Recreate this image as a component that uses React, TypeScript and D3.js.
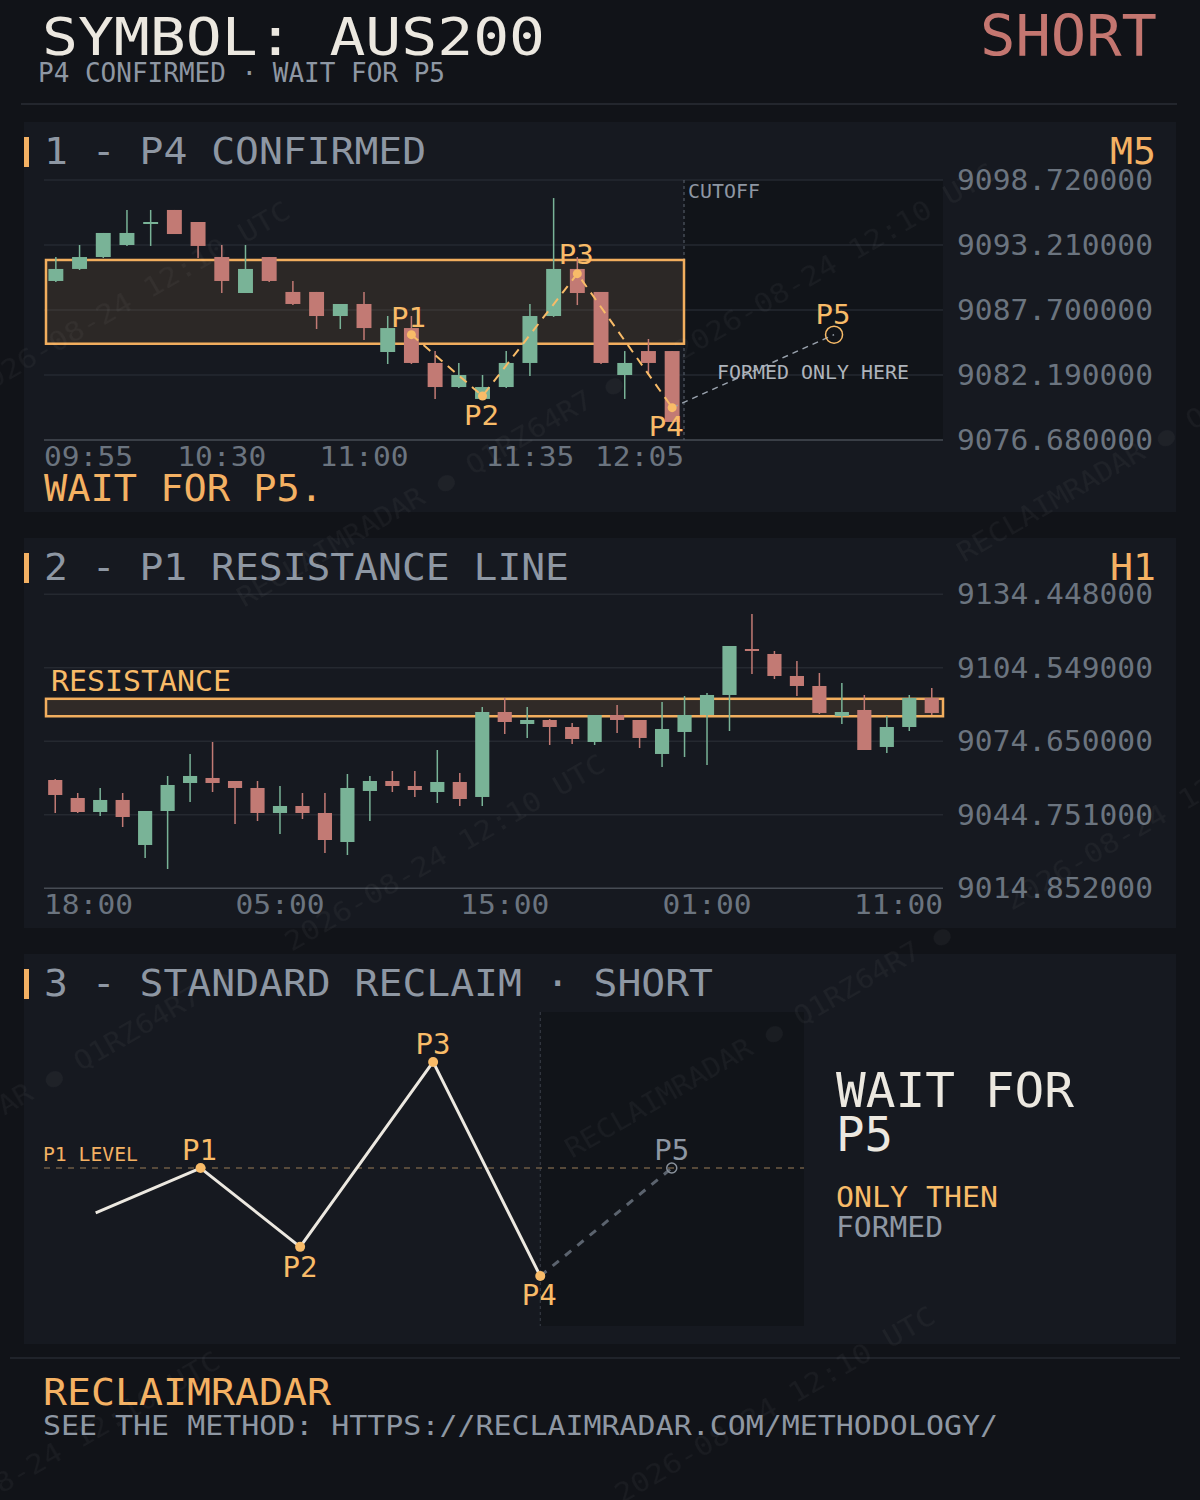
import React from "react";
import * as d3 from "d3";

const FONT = "'DejaVu Sans Mono', 'Liberation Mono', monospace";
const COL = {
  page: "#111318",
  panel: "#161920",
  dark: "#111419",
  grid: "#252930",
  axis: "#474c54",
  cream: "#ece8e0",
  gray: "#8e97a3",
  tick: "#6b747f",
  orange: "#f4b163",
  pivot: "#f8bb68",
  green: "#79b397",
  red: "#c27a74",
  short: "#c47670",
};

// ---------- Header ----------
const symbolName = "AUS200";
const direction = "SHORT";
const statusText = "P4 CONFIRMED · WAIT FOR P5";

// ---------- Panel 1 : M5 ----------
const m5Times = [
  "09:55", "10:00", "10:05", "10:10", "10:15", "10:20", "10:25", "10:30", "10:35",
  "10:40", "10:45", "10:50", "10:55", "11:00", "11:05", "11:10", "11:15", "11:20",
  "11:25", "11:30", "11:35", "11:40", "11:45", "11:50", "11:55", "12:00", "12:05",
];
const m5Open = [9090.16, 9091.18, 9092.19, 9093.21, 9095.08, 9096.18, 9095.16, 9092.19, 9089.14, 9092.19, 9089.23, 9089.23, 9087.19, 9088.21, 9084.14, 9086.17, 9083.21, 9081.17, 9080.16, 9081.17, 9083.21, 9087.19, 9091.18, 9089.23, 9082.19, 9084.22, 9084.22];
const m5High = [9092.19, 9093.21, 9094.23, 9096.18, 9096.18, 9096.18, 9095.16, 9093.21, 9093.21, 9092.19, 9090.16, 9089.23, 9088.21, 9089.23, 9087.19, 9087.19, 9084.22, 9083.21, 9082.19, 9084.22, 9088.21, 9097.19, 9092.19, 9089.23, 9084.22, 9085.24, 9084.22];
const m5Low = [9090.07, 9091.09, 9092.11, 9093.13, 9093.13, 9094.14, 9092.11, 9089.14, 9089.14, 9090.07, 9088.12, 9086.09, 9086.09, 9085.16, 9083.12, 9083.12, 9080.16, 9081.09, 9080.16, 9081.09, 9082.11, 9087.11, 9088.12, 9083.12, 9080.16, 9082.19, 9078.21];
const m5Close = [9091.18, 9092.19, 9094.23, 9094.23, 9095.16, 9094.14, 9093.13, 9090.16, 9091.18, 9090.16, 9088.21, 9087.19, 9088.21, 9086.17, 9086.17, 9083.21, 9081.17, 9082.19, 9081.17, 9083.21, 9087.19, 9091.18, 9089.14, 9083.21, 9083.21, 9083.21, 9078.21];
const m5Ticks = [9098.72, 9093.21, 9087.7, 9082.19, 9076.68];
const m5TickIdx = [0, 7, 13, 20, 26];
const zoneHigh = 9091.94;
const zoneLow = 9084.84;
const pivotNames = ["P1", "P2", "P3", "P4"];
const pivotIdx = [15, 18, 22, 26];
const pivotPrice = [9085.61, 9080.41, 9090.78, 9079.42];
const p5Idx = 32.83;
const p5Price = 9085.61;

// ---------- Panel 2 : H1 ----------
const h1Times = [
  "18:00", "19:00", "20:00", "21:00", "22:00", "00:00", "01:00", "02:00", "03:00", "04:00",
  "05:00", "06:00", "07:00", "08:00", "09:00", "10:00", "11:00", "12:00", "13:00", "14:00",
  "15:00", "16:00", "17:00", "18:00", "19:00", "20:00", "21:00", "22:00", "00:00", "01:00",
  "02:00", "03:00", "04:00", "05:00", "06:00", "07:00", "08:00", "09:00", "10:00", "11:00",
];
const h1Open = [9058.91, 9051.59, 9045.89, 9050.78, 9032.47, 9046.30, 9057.69, 9059.73, 9058.50, 9055.66, 9045.49, 9048.33, 9045.49, 9033.69, 9054.44, 9058.50, 9056.47, 9054.03, 9058.10, 9052.00, 9086.57, 9081.69, 9083.32, 9080.47, 9074.37, 9085.35, 9083.32, 9069.49, 9078.44, 9085.35, 9093.49, 9112.20, 9110.17, 9101.22, 9097.15, 9084.94, 9087.39, 9072.34, 9080.47, 9092.27];
const h1High = [9059.32, 9053.62, 9055.66, 9053.62, 9046.30, 9060.54, 9069.49, 9074.37, 9058.50, 9058.50, 9056.47, 9053.62, 9053.62, 9061.35, 9060.54, 9062.57, 9062.57, 9071.11, 9061.76, 9088.61, 9092.27, 9088.61, 9083.73, 9082.10, 9085.35, 9089.42, 9083.32, 9090.64, 9093.08, 9094.30, 9113.42, 9126.44, 9111.39, 9107.32, 9102.44, 9098.37, 9093.49, 9084.94, 9093.49, 9096.34];
const h1Low = [9045.49, 9045.49, 9044.27, 9039.79, 9027.18, 9022.71, 9049.96, 9054.03, 9041.01, 9042.23, 9036.95, 9043.05, 9029.22, 9028.40, 9042.23, 9054.03, 9052.00, 9049.55, 9048.33, 9048.33, 9077.62, 9076.00, 9073.15, 9073.56, 9073.15, 9078.03, 9071.93, 9064.20, 9068.27, 9065.01, 9078.84, 9102.03, 9100.00, 9093.08, 9085.76, 9081.69, 9071.11, 9069.89, 9078.84, 9085.35];
const h1Close = [9052.81, 9045.89, 9050.78, 9043.86, 9046.30, 9056.88, 9060.54, 9057.69, 9055.66, 9045.49, 9048.33, 9045.49, 9034.50, 9055.66, 9058.50, 9056.47, 9054.84, 9058.10, 9051.18, 9086.57, 9082.50, 9083.32, 9080.47, 9075.59, 9085.35, 9083.32, 9076.00, 9079.66, 9085.35, 9093.49, 9113.42, 9111.39, 9101.22, 9097.15, 9086.17, 9086.57, 9071.11, 9080.47, 9092.27, 9086.17];
const h1Ticks = [9134.448, 9104.549, 9074.65, 9044.751, 9014.852];
const h1TickIdx = [0, 10, 20, 29, 39];

// ---------- Panel 3 : schematic ----------
const schemNames = ["", "P1", "P2", "P3", "P4", "P5"];
const schemX = [6.8, 20.6, 33.7, 51.2, 65.3, 82.6];
const schemY = [36.0, 50.3, 25.2, 84.1, 15.9, 50.3];

// ---------- Watermark ----------
const wmBrand = "RECLAIMRADAR ● Q1RZ64R7 ●";
const wmStamp = "2026-08-24 12:10 UTC";
const wmBrandAt: [number, number][] = [[430, 490], [758, 1041], [38, 1086], [1150, 445]];
const wmStampAt: [number, number][] = [[130, 300], [835, 262], [445, 853], [1165, 812], [775, 1405], [60, 1450]];

type TP = {
  x: number; y: number; s: number; fill: string; anchor?: string; len?: number;
  children: React.ReactNode; op?: number; transform?: string;
};
function T({ x, y, s, fill, anchor = "start", len, children, op, transform }: TP) {
  return (
    <text
      x={x}
      y={y}
      fontSize={s}
      fill={fill}
      textAnchor={anchor as any}
      fontFamily={FONT}
      textLength={len}
      lengthAdjust={len ? "spacingAndGlyphs" : undefined}
      opacity={op}
      transform={transform}
    >
      {children}
    </text>
  );
}

type Candle = { o: number; h: number; l: number; c: number };
function zipCandles(o: number[], h: number[], l: number[], c: number[]): Candle[] {
  return o.map((v, i) => ({ o: v, h: h[i], l: l[i], c: c[i] }));
}

function Candles({ data, x, y }: { data: Candle[]; x: d3.ScaleBand<number>; y: d3.ScaleLinear<number, number> }) {
  const bw = x.bandwidth() * 0.63;
  return (
    <g>
      {data.map((d, i) => {
        const cx = (x(i) as number) + x.bandwidth() / 2;
        const up = d.c >= d.o;
        const col = up ? COL.green : COL.red;
        const top = y(Math.max(d.o, d.c));
        const bot = y(Math.min(d.o, d.c));
        return (
          <g key={i}>
            <line x1={cx} x2={cx} y1={y(d.h)} y2={y(d.l)} stroke={col} strokeWidth={1.5} />
            <rect x={cx - bw / 2} y={top} width={bw} height={Math.max(2, bot - top)} fill={col} />
          </g>
        );
      })}
    </g>
  );
}

function TimeLabels({ idx, labels, x, x0, x1, yb }: { idx: number[]; labels: string[]; x: d3.ScaleBand<number>; x0: number; x1: number; yb: number }) {
  return (
    <g>
      {idx.map((i) => {
        const lab = labels[i];
        const w = lab.length * 18 - 1;
        let cx = (x(i) as number) + x.bandwidth() / 2;
        cx = Math.max(x0 + w / 2, Math.min(x1 - w / 2, cx));
        return (
          <T key={i} x={cx - w / 2} y={yb} s={27} fill={COL.tick} len={w}>
            {lab}
          </T>
        );
      })}
    </g>
  );
}

function PanelFrame({ top, title, tf, tfLen, titleLen }: { top: number; title: string; tf?: string; tfLen?: number; titleLen: number }) {
  return (
    <g>
      <rect x={24} y={top} width={1152} height={390} fill={COL.panel} />
      <rect x={24} y={top + 15} width={5} height={30} fill={COL.orange} />
      <T x={44} y={top + 42} s={38} fill={COL.gray} len={titleLen}>{title}</T>
      {tf && (
        <T x={1156} y={top + 42} s={38} fill={COL.orange} anchor="end" len={tfLen}>{tf}</T>
      )}
    </g>
  );
}

export default function App() {
  // ----- Panel 1 scales -----
  const m5 = zipCandles(m5Open, m5High, m5Low, m5Close);
  const x1 = d3.scaleBand<number>().domain(d3.range(m5.length)).range([44, 684]).padding(0);
  const y1 = d3.scaleLinear().domain([m5Ticks[4], m5Ticks[0]]).range([440, 180]);
  const x1c = d3
    .scaleLinear()
    .domain([0, m5.length - 1])
    .range([(x1(0) as number) + x1.bandwidth() / 2, (x1(m5.length - 1) as number) + x1.bandwidth() / 2]);
  const pivPts: [number, number][] = pivotIdx.map((ix, k) => [x1c(ix), y1(pivotPrice[k])]);
  const p5: [number, number] = [x1c(p5Idx), y1(p5Price)];
  const pivLine = d3.line()(pivPts) as string;
  const labOff: [number, number][] = [[-3, -8], [-1, 29], [-1, -10], [-6, 28]];

  // ----- Panel 2 scales -----
  const h1 = zipCandles(h1Open, h1High, h1Low, h1Close);
  const x2 = d3.scaleBand<number>().domain(d3.range(h1.length)).range([44, 943]).padding(0);
  const y2 = d3.scaleLinear().domain([h1Ticks[4], h1Ticks[0]]).range([888.3, 594.3]);

  // ----- Panel 3 scales -----
  const xs = d3.scaleLinear().domain([0, 100]).range([44, 804]);
  const ys = d3.scaleLinear().domain([0, 100]).range([1326, 1012]);
  const sPts: [number, number][] = schemX.map((v, i) => [xs(v), ys(schemY[i])]);
  const solid = d3.line()(sPts.slice(0, 5)) as string;
  const future = d3.line()(sPts.slice(4, 6)) as string;
  const sLab: [number, number][] = [[0, 0], [-1, -8], [0, 30], [0, -8], [-1, 29], [0, -8]];

  return (
    <svg width={1200} height={1500} style={{ position: "absolute", left: 0, top: 0 }}>
      <rect x={0} y={0} width={1200} height={1500} fill={COL.page} />

      {/* Header */}
      <T x={42} y={55} s={51} fill={COL.cream} len={503}>{`SYMBOL: ${symbolName}`}</T>
      <T x={38} y={82} s={26} fill={COL.gray} len={407}>{statusText}</T>
      <T x={1157} y={56} s={57} fill={COL.short} anchor="end" len={177}>{direction}</T>
      <line x1={21} x2={1177} y1={104} y2={104} stroke="#2a2e34" strokeWidth={1.5} />

      {/* ---------------- Panel 1 ---------------- */}
      <PanelFrame top={122} title="1 - P4 CONFIRMED" tf="M5" tfLen={46} titleLen={382} />
      <rect x={684} y={180} width={259} height={260} fill={COL.dark} />
      {m5Ticks.map((t, i) => (
        <g key={i}>
          <line x1={44} x2={943} y1={y1(t)} y2={y1(t)} stroke={i === 4 ? COL.axis : COL.grid} strokeWidth={1.5} />
          <T x={1153} y={y1(t) + 10} s={28} fill={COL.tick} anchor="end" len={196}>{t.toFixed(6)}</T>
        </g>
      ))}
      <line x1={684} x2={684} y1={180} y2={440} stroke="#5d6570" strokeWidth={1} strokeDasharray="3 3" />
      <T x={688} y={198} s={19} fill={COL.gray} len={72}>CUTOFF</T>
      <rect
        x={46}
        y={y1(zoneHigh)}
        width={684 - 46}
        height={y1(zoneLow) - y1(zoneHigh)}
        fill="rgba(242,174,94,0.1)"
        stroke="#f2ae5e"
        strokeWidth={2.5}
      />
      <Candles data={m5} x={x1} y={y1} />
      <path d={pivLine} fill="none" stroke={COL.pivot} strokeWidth={2} strokeDasharray="9 7" />
      <line x1={pivPts[3][0]} y1={pivPts[3][1]} x2={p5[0]} y2={p5[1]} stroke="#9aa3ae" strokeWidth={1.5} strokeDasharray="6 5" />
      {pivPts.map((p, k) => (
        <g key={k}>
          <circle cx={p[0]} cy={p[1]} r={4.5} fill={COL.pivot} />
          <T x={p[0] + labOff[k][0]} y={p[1] + labOff[k][1]} s={27} fill={COL.pivot} anchor="middle" len={35}>
            {pivotNames[k]}
          </T>
        </g>
      ))}
      <circle cx={p5[0]} cy={p5[1]} r={8.5} fill="none" stroke={COL.pivot} strokeWidth={1.5} />
      <T x={p5[0] - 1} y={p5[1] - 11} s={27} fill={COL.pivot} anchor="middle" len={35}>P5</T>
      <T x={717} y={379} s={19} fill="#aeb4bc" len={192}>FORMED ONLY HERE</T>
      <TimeLabels idx={m5TickIdx} labels={m5Times} x={x1} x0={44} x1={684} yb={466} />
      <T x={44} y={501} s={38} fill={COL.orange} len={279}>WAIT FOR P5.</T>

      {/* ---------------- Panel 2 ---------------- */}
      <PanelFrame top={538} title="2 - P1 RESISTANCE LINE" tf="H1" tfLen={46} titleLen={525} />
      {h1Ticks.map((t, i) => (
        <g key={i}>
          <line x1={44} x2={943} y1={y2(t)} y2={y2(t)} stroke={i === 4 ? COL.axis : COL.grid} strokeWidth={1.5} />
          <T x={1153} y={y2(t) + 10} s={28} fill={COL.tick} anchor="end" len={196}>{t.toFixed(6)}</T>
        </g>
      ))}
      <rect
        x={46}
        y={y2(zoneHigh)}
        width={943 - 46}
        height={y2(zoneLow) - y2(zoneHigh)}
        fill="rgba(242,174,94,0.12)"
        stroke="#f2ae5e"
        strokeWidth={2.5}
      />
      <T x={51} y={691} s={29} fill={COL.pivot} len={180}>RESISTANCE</T>
      <Candles data={h1} x={x2} y={y2} />
      <TimeLabels idx={h1TickIdx} labels={h1Times} x={x2} x0={44} x1={943} yb={914} />

      {/* ---------------- Panel 3 ---------------- */}
      <PanelFrame top={954} title="3 - STANDARD RECLAIM · SHORT" titleLen={669} />
      <rect x={xs(schemX[4])} y={1012} width={804 - xs(schemX[4])} height={314} fill={COL.dark} />
      <line x1={xs(schemX[4])} x2={xs(schemX[4])} y1={1012} y2={1326} stroke="#3b4049" strokeWidth={1} strokeDasharray="3 3" />
      <line x1={44} x2={804} y1={ys(schemY[1])} y2={ys(schemY[1])} stroke="#6d5b44" strokeWidth={1.5} strokeDasharray="6 6" />
      <T x={43} y={ys(schemY[1]) - 7} s={19} fill={COL.orange} len={95}>P1 LEVEL</T>
      <path d={future} fill="none" stroke="#5b636e" strokeWidth={3} strokeDasharray="8 8" />
      <path d={solid} fill="none" stroke={COL.cream} strokeWidth={3} strokeLinejoin="round" />
      {sPts.map((p, i) =>
        i === 0 ? null : (
          <g key={i}>
            {i < 5 ? (
              <circle cx={p[0]} cy={p[1]} r={5} fill={COL.pivot} />
            ) : (
              <circle cx={p[0]} cy={p[1]} r={5} fill="none" stroke="#8a929c" strokeWidth={1.5} />
            )}
            <T
              x={p[0] + sLab[i][0]}
              y={p[1] + sLab[i][1]}
              s={28}
              fill={i < 5 ? COL.pivot : COL.gray}
              anchor="middle"
              len={35}
            >
              {schemNames[i]}
            </T>
          </g>
        )
      )}
      <T x={836} y={1107} s={48} fill={COL.cream} len={238}>WAIT FOR</T>
      <T x={836} y={1151} s={48} fill={COL.cream} len={57}>P5</T>
      <T x={836} y={1207} s={29} fill={COL.pivot} len={162}>ONLY THEN</T>
      <T x={836} y={1237} s={29} fill={COL.gray} len={107}>FORMED</T>

      {/* ---------------- Footer ---------------- */}
      <line x1={10} x2={1180} y1={1358} y2={1358} stroke="#262a30" strokeWidth={1.5} />
      <T x={43} y={1405} s={38} fill={COL.orange} len={288}>RECLAIMRADAR</T>
      <T x={43} y={1435} s={27} fill={COL.gray} len={955}>
        SEE THE METHOD: HTTPS://RECLAIMRADAR.COM/METHODOLOGY/
      </T>

      {/* ---------------- Watermark ---------------- */}
      <g opacity={0.04} pointerEvents="none">
        {wmBrandAt.map(([cx, cy], i) => (
          <T key={"b" + i} x={cx} y={cy + 9} s={26} fill="#ffffff" anchor="middle" len={440} transform={`rotate(-30 ${cx} ${cy})`}>
            {wmBrand}
          </T>
        ))}
        {wmStampAt.map(([cx, cy], i) => (
          <T key={"s" + i} x={cx} y={cy + 9} s={26} fill="#ffffff" anchor="middle" len={365} transform={`rotate(-30 ${cx} ${cy})`}>
            {wmStamp}
          </T>
        ))}
      </g>
    </svg>
  );
}
